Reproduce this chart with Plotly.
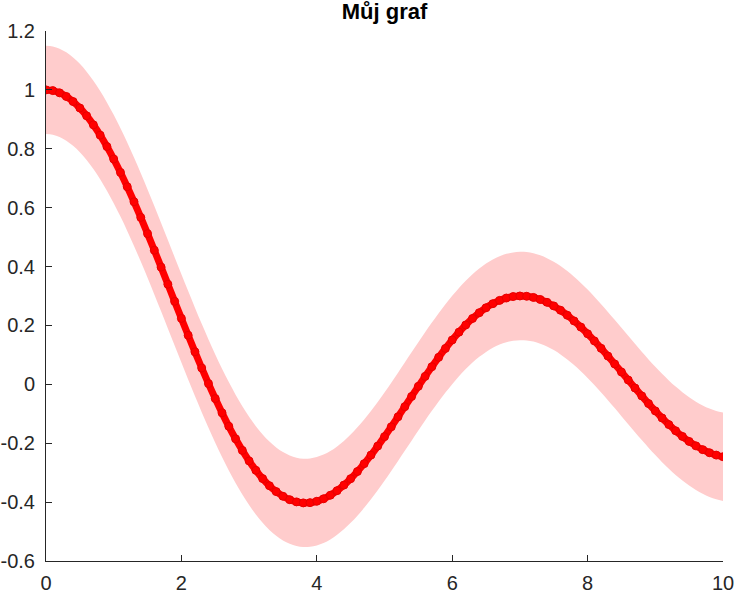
import plotly.graph_objects as go

x_vals = [round(i * 0.1, 1) for i in range(101)]
y_vals = [1.0000, 0.9975, 0.9900, 0.9776, 0.9604, 0.9385, 0.9120, 0.8812, 0.8463, 0.8075,
          0.7652, 0.7196, 0.6711, 0.6201, 0.5669, 0.5118, 0.4554, 0.3980, 0.3400, 0.2818,
          0.2239, 0.1666, 0.1104, 0.0555, 0.0025, -0.0484, -0.0968, -0.1424, -0.1850, -0.2243,
          -0.2601, -0.2921, -0.3202, -0.3443, -0.3643, -0.3801, -0.3918, -0.3992, -0.4026, -0.4018,
          -0.3971, -0.3887, -0.3766, -0.3610, -0.3423, -0.3205, -0.2961, -0.2693, -0.2404, -0.2097,
          -0.1776, -0.1443, -0.1103, -0.0758, -0.0412, -0.0068, 0.0270, 0.0599, 0.0917, 0.1220,
          0.1506, 0.1773, 0.2017, 0.2238, 0.2433, 0.2601, 0.2740, 0.2851, 0.2931, 0.2981,
          0.3001, 0.2991, 0.2951, 0.2882, 0.2786, 0.2663, 0.2516, 0.2346, 0.2154, 0.1944,
          0.1717, 0.1475, 0.1222, 0.0960, 0.0692, 0.0419, 0.0146, -0.0125, -0.0392, -0.0653,
          -0.0903, -0.1142, -0.1367, -0.1577, -0.1768, -0.1939, -0.2090, -0.2218, -0.2323, -0.2403,
          -0.2459]
band_half_width = 0.15
upper = [v + band_half_width for v in y_vals]
lower = [v - band_half_width for v in y_vals]

x_ticks = [0, 2, 4, 6, 8, 10]
x_tick_labels = ["0", "2", "4", "6", "8", "10"]
y_ticks = [-0.6, -0.4, -0.2, 0, 0.2, 0.4, 0.6, 0.8, 1.0, 1.2]
y_tick_labels = ["-0.6", "-0.4", "-0.2", "0", "0.2", "0.4", "0.6", "0.8", "1", "1.2"]
title_text = "Můj graf"

fig = go.Figure()
fig.add_trace(go.Scatter(x=x_vals, y=lower, mode="lines", line=dict(width=0, shape="spline"),
                         hoverinfo="skip", showlegend=False))
fig.add_trace(go.Scatter(x=x_vals, y=upper, mode="lines", line=dict(width=0, shape="spline"),
                         fill="tonexty", fillcolor="rgb(255,204,204)", hoverinfo="skip", showlegend=False))
fig.add_trace(go.Scatter(x=x_vals, y=y_vals, mode="lines+markers",
                         line=dict(color="rgb(255,0,0)", width=7, shape="spline"),
                         marker=dict(symbol="circle", size=8, color="rgb(255,0,0)",
                                     line=dict(width=1, color="rgb(230,0,0)")),
                         showlegend=False))

axis_font = dict(family="Liberation Sans, Arial, sans-serif", size=20, color="#262626")
fig.update_layout(
    width=737, height=594,
    margin=dict(l=46, r=14, t=31, b=33),
    paper_bgcolor="white", plot_bgcolor="white",
    title=dict(text="<b>" + title_text + "</b>", x=0.5, xref="paper", xanchor="center",
               y=1 - 4 / 594, yref="container", yanchor="top",
               font=dict(family="Liberation Sans, Arial, sans-serif", size=22, color="black")),
    showlegend=False,
)
fig.update_xaxes(range=[0, 10], tickvals=x_ticks, ticktext=x_tick_labels, showgrid=False, zeroline=False,
                 showline=True, linecolor="#262626", linewidth=1, ticks="inside", ticklen=6,
                 tickcolor="#262626", mirror=False, tickfont=axis_font, automargin=False,
                 ticklabelstandoff=4)
fig.update_yaxes(range=[-0.6, 1.2], tickvals=y_ticks, ticktext=y_tick_labels, showgrid=False, zeroline=False,
                 showline=True, linecolor="#262626", linewidth=1, ticks="inside", ticklen=6,
                 tickcolor="#262626", mirror=False, tickfont=axis_font, automargin=False,
                 ticklabelstandoff=6)

fig.write_html("out.html", config={"displayModeBar": False},
               post_script="document.body.style.margin='0';document.body.style.overflow='hidden';")
